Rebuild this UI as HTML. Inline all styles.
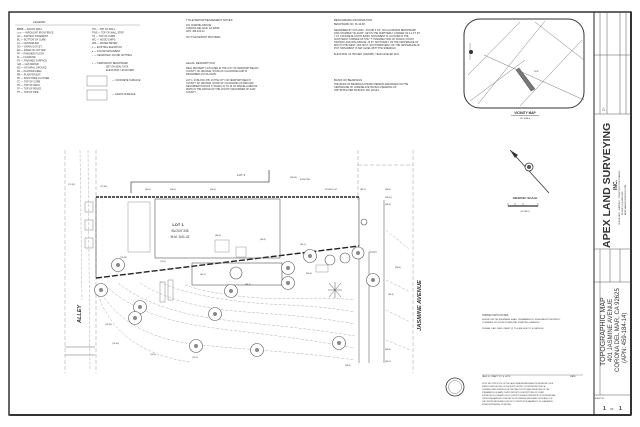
<!DOCTYPE html>
<html><head><meta charset="utf-8"><style>
body{margin:0;background:#fff;width:640px;height:427px;overflow:hidden}
svg{display:block}
text{font-family:"Liberation Sans",sans-serif;fill:#333}
</style></head><body>
<svg width="640" height="427" viewBox="0 0 640 427" xmlns="http://www.w3.org/2000/svg">
<rect x="0" y="0" width="640" height="427" fill="#fff"/>
<rect x="9" y="12" width="622" height="403" fill="none" stroke="#222" stroke-width="1.4"/>
<line x1="10" y1="415" x2="631" y2="415" stroke="#333" stroke-width="2"/>
<line x1="631" y1="12" x2="631" y2="415" stroke="#333" stroke-width="2"/>
<!-- Legend -->
<text x="33" y="23" font-size="3">LEGEND</text>
<line x1="15" y1="25" x2="140" y2="25" stroke="#888" stroke-width="0.4"/>
<g font-size="2.4" fill="#444">
<text x="17" y="30">BBBB — BLOCK WALL</text><text x="17" y="33.5">-x-x- — WROUGHT IRON FENCE</text><text x="17" y="37">AC — ASPHALT PAVEMENT</text><text x="17" y="40.5">BC — BOTTOM OF CURB</text><text x="17" y="44">CL — CENTERLINE</text><text x="17" y="47.5">DO — DRAIN OUTLET</text><text x="17" y="51">EG — EDGE OF GUTTER</text><text x="17" y="54.5">FF — FINISHED FLOOR</text><text x="17" y="58">FL — FLOWLINE</text><text x="17" y="61.5">FS — FINISHED SURFACE</text><text x="17" y="65">GM — GAS METER</text><text x="17" y="68.5">NG — NATURAL GROUND</text><text x="17" y="72">PA — PLANTER AREA</text><text x="17" y="75.5">PB — PLANTER BOX</text><text x="17" y="79">PC — PALM TREE CLUSTER</text><text x="17" y="82.5">TC — TOP OF CURB</text><text x="17" y="86">TD — TOP OF DECK</text><text x="17" y="89.5">TF — TOP OF FENCE</text><text x="17" y="93">TP — TOP OF PIPE</text>
<text x="92" y="30">TW — TOP OF WALL</text><text x="92" y="33.5">TWS — TOP OF WALL STEP</text><text x="92" y="37">TS — TOP OF CURB</text><text x="92" y="40.5">WC — WOOD CHIPS</text><text x="92" y="44">WM — WATER METER</text><text x="92" y="48">x — EXISTING ELEVATION</text><text x="92" y="52">● — FOUND MONUMENT</text><text x="92" y="56">○ — SEARCHED, FOUND NOTHING</text><text x="92" y="64">◐ — TEMPORARY BENCHMARK</text><text x="106" y="67.5">SET ON SEAL TACK</text><text x="106" y="71">ELEVATION = 98.00 FEET</text><text x="112" y="81">— CONCRETE SURFACE</text><text x="112" y="95">— GRASS SURFACE</text>
</g>
<rect x="87" y="76" width="20" height="10" fill="none" stroke="#666" stroke-width="0.4"/>
<rect x="87" y="90" width="20" height="10" fill="none" stroke="#666" stroke-width="0.4"/>
<!-- notes -->
<g font-size="2.4" fill="#444">
<text x="186" y="21" font-size="2.8">TITLE REPORT/EASEMENT NOTES</text>
<text x="186" y="26">401 JASMINE AVENUE</text><text x="186" y="29">CORONA DEL MAR, CA 92625</text><text x="186" y="32">APN: 459-184-14</text><text x="186" y="38">NO TITLE REPORT PROVIDED</text>
<text x="186" y="64" font-size="2.8">LEGAL DESCRIPTION</text>
<text x="186" y="69">REAL PROPERTY SITUATED IN THE CITY OF NEWPORT BEACH,</text><text x="186" y="72">COUNTY OF ORANGE, STATE OF CALIFORNIA AND IS</text><text x="186" y="75">DESCRIBED AS FOLLOWS:</text>
<text x="186" y="81">LOT 1, IN BLOCK 335, IN THE CITY OF NEWPORT BEACH,</text><text x="186" y="84">COUNTY OF ORANGE, STATE OF CALIFORNIA AS PER MAP</text><text x="186" y="87">RECORDED IN BOOK 3, PAGES 41 TO 42 OF MISCELLANEOUS</text><text x="186" y="90">MAPS IN THE OFFICE OF THE COUNTY RECORDER OF SAID</text><text x="186" y="93">COUNTY.</text>
<text x="334" y="21" font-size="2.8">BENCHMARK INFORMATION</text>
<text x="334" y="25">BENCHMARK NO. 3K-20-88</text>
<text x="334" y="31">DESCRIBED BY OCS 2003 - FOUND 3 3/4" OCS ALUMINUM BENCHMARK</text><text x="334" y="34">DISK STAMPED "3K-20-88", SET IN THE NORTHERLY CORNER OF A 4 FT. BY</text><text x="334" y="37">7 FT. CONCRETE CATCH BASIN. MONUMENT IS LOCATED IN THE</text><text x="334" y="40">SOUTHERLY CORNER OF THE "T" INTERSECTION OF PACIFIC COAST</text><text x="334" y="43">HIGHWAY AND IRIS AVENUE, 46 FT. SOUTHERLY OF THE CENTERLINE OF</text><text x="334" y="46">IRIS TO THE WEST, AND 38 FT. SOUTHWESTERLY OF THE CENTERLINE OF</text><text x="334" y="49">PCH. MONUMENT IS SET LEVEL WITH THE SIDEWALK.</text>
<text x="334" y="55">ELEVATION: 94.789 FEET (NAVD88), YEAR LEVELED 2011</text>
<text x="334" y="81" font-size="2.8">BASIS OF BEARINGS</text>
<text x="334" y="85">THE BASIS OF BEARINGS SHOWN HEREON ARE BASED ON THE</text><text x="334" y="88">CENTERLINE OF JASMINE AVE HAVING A BEARING OF</text><text x="334" y="91">N39°39'35"E PER PM BOOK 166, PAGE 1</text>
</g>
<!-- vicinity map -->
<rect x="464" y="19" width="120" height="89" rx="16" fill="none" stroke="#333" stroke-width="1"/>
<g stroke="#777" stroke-width="0.5" fill="none">
<line x1="468" y1="75" x2="520" y2="22"/><line x1="478" y1="104" x2="545" y2="21"/><line x1="520" y1="106" x2="582" y2="40"/>
<line x1="484" y1="55" x2="584" y2="100"/><line x1="470" y1="101" x2="525" y2="60"/><line x1="535" y1="22" x2="584" y2="60"/>
<line x1="470" y1="43" x2="470" y2="60"/>
</g>
<polygon points="516,70 519,68 535,89 531,91" fill="#777" stroke="#333" stroke-width="0.4"/>
<text x="534" y="72" font-size="2">SITE</text>
<circle cx="471" cy="52" r="2" fill="#333"/>
<text x="525" y="114" font-size="3.2" font-weight="bold" text-anchor="middle">VICINITY MAP</text>
<line x1="511" y1="115.5" x2="539" y2="115.5" stroke="#333" stroke-width="0.4"/>
<text x="525" y="119" font-size="2" text-anchor="middle">NO SCALE</text>
<!-- north arrow -->
<line x1="510" y1="150" x2="549" y2="193" stroke="#333" stroke-width="0.8"/>
<polygon points="510,150 518,155 515,158" fill="#333"/>
<circle cx="529" cy="167" r="4" fill="#fff" stroke="#333" stroke-width="0.8"/>
<circle cx="529" cy="167" r="2" fill="#555"/>
<text x="525" y="199" font-size="3" font-weight="bold" text-anchor="middle">GRAPHIC SCALE</text>
<line x1="508" y1="206" x2="538" y2="206" stroke="#333" stroke-width="1.2"/>
<g stroke="#333" stroke-width="0.4"><line x1="508" y1="203" x2="508" y2="206"/><line x1="515" y1="203" x2="515" y2="206"/><line x1="523" y1="203" x2="523" y2="206"/><line x1="538" y1="203" x2="538" y2="206"/></g>
<text x="525" y="212" font-size="2" text-anchor="middle">( IN FEET )</text>
<!-- dashed frame lines -->
<g stroke="#999" stroke-width="0.5" stroke-dasharray="4,2" fill="none">
<line x1="65" y1="150" x2="65" y2="373"/><line x1="96" y1="150" x2="96" y2="373"/><line x1="358" y1="150" x2="358" y2="200"/><line x1="413" y1="150" x2="413" y2="373"/>
<line x1="358" y1="165" x2="413" y2="165"/>
</g>
<!-- adjacent lot 3 -->
<polyline points="131,193 131,182 269,182 269,170" fill="none" stroke="#555" stroke-width="0.8"/>
<text x="237" y="176" font-size="3">LOT 3</text>
<!-- lot boundary -->
<line x1="96" y1="197" x2="359" y2="197" stroke="#222" stroke-width="1.6" stroke-dasharray="3,1"/>
<line x1="96" y1="278" x2="359" y2="246" stroke="#222" stroke-width="1.4" stroke-dasharray="6,2"/>
<line x1="96" y1="197" x2="96" y2="278" stroke="#444" stroke-width="0.6"/>
<line x1="359" y1="197" x2="359" y2="246" stroke="#444" stroke-width="0.6"/>
<!-- buildings -->
<rect x="155" y="199" width="125" height="59" fill="none" stroke="#555" stroke-width="0.6"/>
<rect x="192" y="263" width="90" height="22" fill="none" stroke="#555" stroke-width="0.6"/>
<rect x="128" y="202" width="22" height="50" fill="none" stroke="#777" stroke-width="0.4"/>
<rect x="215" y="240" width="14" height="12" fill="none" stroke="#777" stroke-width="0.4"/>
<rect x="236" y="247" width="10" height="10" fill="none" stroke="#777" stroke-width="0.4"/>
<rect x="316" y="265" width="12" height="7" fill="none" stroke="#777" stroke-width="0.4"/>
<g fill="none" stroke="#666" stroke-width="0.4"><rect x="85" y="202" width="8" height="10"/><rect x="85" y="220" width="8" height="10"/><rect x="85" y="238" width="8" height="10"/><rect x="160" y="282" width="5" height="20"/><rect x="168" y="280" width="5" height="20"/></g>
<text x="178" y="226" font-size="4" font-weight="bold" fill="#111" text-anchor="middle">LOT 1</text>
<text x="180" y="232" font-size="3.2" fill="#888" text-anchor="middle">BLOCK 335</text>
<text x="180" y="238" font-size="3.2" fill="#888" text-anchor="middle">M.M. 3/41-42</text>
<!-- street lines -->
<g stroke="#666" stroke-width="0.6" fill="none">
<line x1="359" y1="246" x2="359" y2="363"/><line x1="369" y1="252" x2="369" y2="363"/><line x1="384" y1="200" x2="384" y2="363"/>
<line x1="369" y1="252" x2="377" y2="252"/>
</g>
<!-- contours -->
<g stroke="#999" stroke-width="0.4" fill="none" stroke-dasharray="3,1.5">
<path d="M105,285 C125,305 160,320 200,326 S290,336 355,348"/>
<path d="M118,283 C140,300 170,312 210,318 S295,326 355,336"/>
<path d="M140,283 C160,296 190,306 225,310 S300,314 355,324"/>
<path d="M160,282 C180,292 210,298 245,302 S310,304 355,312"/>
<path d="M185,285 C205,292 230,296 260,298 S320,296 355,300"/>
<path d="M100,290 C115,320 150,340 200,345 S300,352 355,360"/>
<path d="M98,295 C110,330 140,355 190,362"/>
<path d="M80,150 L82,300"/><path d="M88,150 L90,370"/>
<path d="M386,280 L410,292"/><path d="M386,310 L410,322"/><path d="M386,230 L410,250"/><path d="M386,340 L410,350"/>
</g>
<!-- trees -->
<g fill="#fff" stroke="#555" stroke-width="0.6">
<circle cx="118" cy="265" r="6.5"/><circle cx="101" cy="290" r="6.5"/><circle cx="140" cy="307" r="6.5"/><circle cx="135" cy="318" r="6.5"/>
<circle cx="196" cy="346" r="6.5"/><circle cx="257" cy="350" r="6.5"/><circle cx="215" cy="314" r="6.5"/><circle cx="231" cy="291" r="6.5"/>
<circle cx="236" cy="273" r="6"/><circle cx="288" cy="268" r="6.5"/><circle cx="288" cy="283" r="6.5"/><circle cx="339" cy="343" r="6.5"/>
<circle cx="373" cy="280" r="6.5"/><circle cx="310" cy="256" r="6.5"/><circle cx="358" cy="253" r="6"/><circle cx="345" cy="258" r="5"/><circle cx="330" cy="260" r="5"/>
<circle cx="364" cy="222" r="3"/>
</g>
<g fill="#888"><circle cx="118" cy="265" r="2"/><circle cx="101" cy="290" r="2"/><circle cx="140" cy="307" r="2"/><circle cx="135" cy="318" r="2"/><circle cx="196" cy="346" r="2"/><circle cx="257" cy="350" r="2"/><circle cx="215" cy="314" r="2"/><circle cx="231" cy="291" r="2"/><circle cx="288" cy="268" r="2"/><circle cx="288" cy="283" r="2"/><circle cx="339" cy="343" r="2"/><circle cx="373" cy="280" r="2"/><circle cx="310" cy="256" r="2"/><circle cx="358" cy="253" r="2"/></g>
<g stroke="#555" stroke-width="0.5"><line x1="329" y1="283" x2="341" y2="297"/><line x1="341" y1="283" x2="329" y2="297"/><line x1="335" y1="282" x2="335" y2="298"/><line x1="328" y1="290" x2="342" y2="290"/></g>
<!-- small elevation labels -->
<g font-size="2.2" fill="#555">
<text x="68" y="185">(71.65)</text><text x="100" y="187">(71.68)</text><text x="145" y="190">(85.4)</text><text x="170" y="190">(86.6)</text><text x="210" y="190">(84.6)</text><text x="290" y="178">(99.63)</text><text x="360" y="190">(98.2)</text><text x="385" y="190">(98.6)</text><text x="385" y="198">(98.57)</text><text x="385" y="205">(98.3)</text><text x="325" y="190">FOUND L&amp;T</text><text x="300" y="180">EXISTING</text>
<text x="105" y="325">(74.82)</text><text x="112" y="344">(74.93)</text><text x="150" y="355">(75.6)</text><text x="192" y="358">(75.6)</text><text x="345" y="366">(98.4)</text><text x="385" y="350">(98.6)</text><text x="385" y="362">(98.2)</text><text x="395" y="268">(98.4)</text><text x="388" y="295">(98.4)</text>
<text x="120" y="258">(74.65)</text><text x="160" y="262">(79.6)</text><text x="215" y="236">(88.4)</text><text x="260" y="240">(88.4)</text><text x="306" y="274">(96.4)</text><text x="300" y="245">(96.1)</text><text x="200" y="275">(84.2)</text><text x="245" y="285">(88.3)</text>
</g>
<g stroke="#666" stroke-width="0.5"><line x1="65" y1="347" x2="95" y2="347"/><line x1="65" y1="355" x2="95" y2="355"/></g>
<!-- street names -->
<text font-size="5.5" font-weight="bold" font-style="italic" fill="#222" transform="translate(81,323) rotate(-90)">ALLEY</text>
<text font-size="5.8" font-weight="bold" font-style="italic" fill="#222" transform="translate(421,331) rotate(-90)">JASMINE AVENUE</text>
<!-- surveyor notes -->
<g font-size="2.2" fill="#444">
<text x="482" y="316" font-size="2.6">SURVEYOR'S NOTES</text>
<text x="482" y="320">SURVEYOR OR ENGINEER SHALL PERMANENTLY MONUMENT PROPERTY</text><text x="482" y="323">CORNERS OR OFFSETS BEFORE STARTING GRADING</text>
<text x="482" y="329">PLEASE CALL PAUL CRAFT @ 714-488-5006 TO SCHEDULE</text>
<text x="482" y="377">PAUL E. CRAFT, P.L.S. 6673</text><text x="570" y="377">DATE</text>
</g>
<line x1="482" y1="375" x2="583" y2="375" stroke="#666" stroke-width="0.4"/>
<g font-size="1.8" fill="#555"><text x="482" y="384">NOTE: SECTION 8770.6 OF THE CALIFORNIA BUSINESS AND PROFESSIONS CODE</text><text x="482" y="387">STATES THAT THE USE OF THE WORD CERTIFY OR CERTIFICATION BY A</text><text x="482" y="390">LICENSED LAND SURVEYOR IN THE PRACTICE OF LAND SURVEYING OR THE</text><text x="482" y="393">PREPARATION OF MAPS, PLATS, REPORTS, DESCRIPTIONS OR OTHER</text><text x="482" y="396">SURVEYING DOCUMENTS ONLY CONSTITUTES AN EXPRESSION OF PROFESSIONAL</text><text x="482" y="399">OPINION REGARDING THOSE FACTS OR FINDINGS WHICH ARE THE SUBJECT OF</text><text x="482" y="402">THE CERTIFICATION AND DOES NOT CONSTITUTE A WARRANTY OR GUARANTEE</text><text x="482" y="405">EITHER EXPRESSED OR IMPLIED.</text></g>
<circle cx="455" cy="387" r="9" fill="none" stroke="#333" stroke-width="0.8"/>
<circle cx="455" cy="387" r="6.5" fill="none" stroke="#555" stroke-width="0.4"/>
<!-- title block -->
<line x1="594" y1="12" x2="594" y2="415" stroke="#222" stroke-width="1"/>
<g stroke="#555" stroke-width="0.5" fill="none">
<line x1="594" y1="114" x2="631" y2="114"/><line x1="594" y1="249" x2="631" y2="249"/><line x1="594" y1="282" x2="631" y2="282"/><line x1="594" y1="395" x2="631" y2="395"/>
<line x1="600" y1="12" x2="600" y2="114"/><line x1="607" y1="12" x2="607" y2="114"/><line x1="620" y1="12" x2="620" y2="114"/><line x1="626" y1="12" x2="626" y2="114"/>
<line x1="594" y1="55" x2="631" y2="55"/><line x1="600" y1="249" x2="600" y2="282"/><line x1="610" y1="249" x2="610" y2="282"/><line x1="620" y1="249" x2="620" y2="282"/><line x1="600" y1="282" x2="600" y2="395"/>
</g>
<text x="602" y="110" font-size="4" fill="#333">△</text>
<text font-size="10.5" font-weight="bold" font-family="Liberation Serif" fill="#111" transform="translate(610,248) rotate(-90)">APEX LAND SURVEYING</text>
<text font-size="5" font-weight="bold" fill="#111" transform="translate(617,190) rotate(-90)">INC.</text>
<g font-size="2.2" fill="#555"><text transform="translate(620,225) rotate(-90)">SURVEYING · MAPPING · CONSTRUCTION STAKING</text><text transform="translate(623,215) rotate(-90)">PHONE (714) 488-5006</text><text transform="translate(626,215) rotate(-90)">APEXLANDSURVEYING.COM</text></g>
<text font-size="7" fill="#222" transform="translate(605,366) rotate(-90)">TOPOGRAPHIC MAP</text>
<text font-size="6" fill="#222" transform="translate(612,362) rotate(-90)">401 JASMINE AVENUE</text>
<text font-size="6" fill="#222" transform="translate(619,372) rotate(-90)">CORONA DEL MAR, CA 92625</text>
<text font-size="6" fill="#222" transform="translate(626,363) rotate(-90)">(APN: 459-184-14)</text>
<text x="603" y="410" font-size="5" font-weight="bold" fill="#111">1</text><text x="610" y="410" font-size="2.5">OF</text><text x="619" y="410" font-size="5" font-weight="bold" fill="#111">1</text>
<text x="595" y="399" font-size="1.8">SHEET NO.</text>
</svg>
</body></html>
